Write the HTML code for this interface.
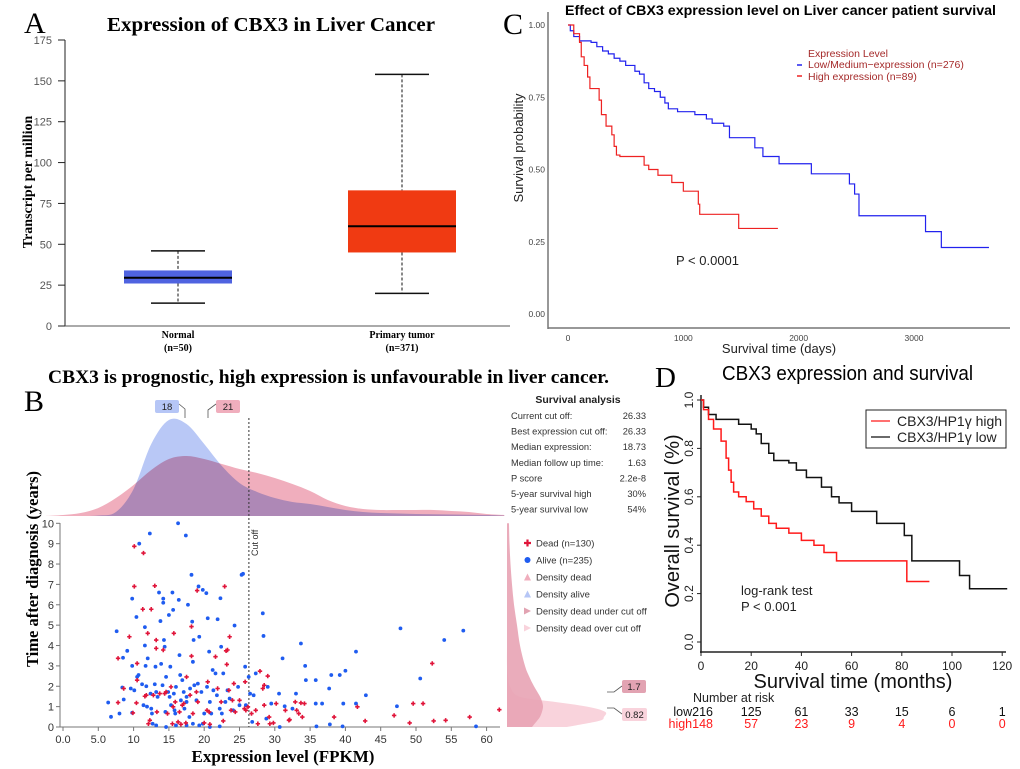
<!DOCTYPE html>
<html><head><meta charset="utf-8"><style>
html,body{margin:0;padding:0;background:#fff;}
svg{display:block;}
text{font-family:"Liberation Sans",sans-serif;}
.serif{font-family:"Liberation Serif",serif;}
</style></head><body>
<svg id="fig" width="1020" height="769" viewBox="0 0 1020 769" xmlns="http://www.w3.org/2000/svg">
<text class="serif" x="24" y="33" font-size="30">A</text>
<text class="serif" x="107" y="31" font-size="20" font-weight="bold" textLength="328" lengthAdjust="spacingAndGlyphs">Expression of CBX3 in Liver Cancer</text>
<text class="serif" x="503" y="34" font-size="30">C</text>
<text x="565" y="15" font-size="14" font-weight="bold" textLength="431" lengthAdjust="spacingAndGlyphs">Effect of CBX3 expression level on Liver cancer patient survival</text>
<text class="serif" x="48" y="383" font-size="19" font-weight="bold" textLength="561" lengthAdjust="spacingAndGlyphs">CBX3 is prognostic, high expression is unfavourable in liver cancer.</text>
<text class="serif" x="24" y="411" font-size="30">B</text>
<text class="serif" x="655" y="387" font-size="29">D</text>
<text x="722" y="380" font-size="20" textLength="251" lengthAdjust="spacingAndGlyphs">CBX3 expression and survival</text>
<g id="gA"></g>
<g id="gC"></g>
<g id="gB"></g>
<g id="gD"></g>
</svg>
<script>
// ---------- Panel A data ----------
const aCategories = ["Normal", "Primary tumor"];
const aCounts = ["(n=50)", "(n=371)"];
const aQ1 = [26, 45];
const aMedian = [29.5, 61];
const aQ3 = [34, 83];
const aLow = [14, 20];
const aHigh = [46, 154];
const aTicks = [0, 25, 50, 75, 100, 125, 150, 175];
const aColors = ["#4f63e0", "#f03a12"];

// ---------- Panel C data ----------
const cLowT = [0,20,50,100,200,250,300,350,400,450,500,580,620,660,700,750,800,840,870,950,1100,1200,1250,1350,1400,1620,1690,1830,2110,2440,2485,2523,3100,3237,3650];
const cLowS = [1,0.98,0.96,0.945,0.94,0.925,0.91,0.9,0.885,0.875,0.86,0.84,0.83,0.8,0.78,0.77,0.75,0.73,0.71,0.7,0.69,0.675,0.66,0.65,0.61,0.575,0.545,0.52,0.485,0.45,0.415,0.34,0.285,0.23,0.23];
const cHighT = [0,50,100,115,140,170,190,270,290,330,380,400,420,450,660,700,780,900,1000,1130,1142,1480,1820];
const cHighS = [1,0.97,0.94,0.89,0.86,0.82,0.78,0.74,0.69,0.65,0.62,0.58,0.55,0.545,0.515,0.5,0.48,0.455,0.425,0.38,0.345,0.296,0.296];
const cYTicks = [0, 0.25, 0.5, 0.75, 1.0];
const cYLabels = ["0.00","0.25","0.50","0.75","1.00"];
const cXTicks = [0, 1000, 2000, 3000];

// ---------- Panel D data ----------
const dLowT = [0,1,3,6,15,20,22,24,27,29,35,38,42,48,52,55,60,70,81,84,103,107,122];
const dLowS = [1,0.97,0.94,0.92,0.9,0.88,0.86,0.82,0.78,0.75,0.74,0.71,0.68,0.64,0.6,0.575,0.54,0.49,0.44,0.335,0.275,0.22,0.22];
const dHighT = [0,1,3,5,8,10,11,12,13,15,18,21,24,27,30,35,40,45,49,54,82,91];
const dHighS = [1,0.96,0.92,0.88,0.83,0.76,0.71,0.66,0.62,0.6,0.58,0.55,0.52,0.49,0.47,0.45,0.42,0.4,0.37,0.335,0.25,0.25];
const dYTicks = [0, 0.2, 0.4, 0.6, 0.8, 1.0];
const dXTicks = [0, 20, 40, 60, 80, 100, 120];
const dRiskLow = ["216","125","61","33","15","6","1"];
const dRiskHigh = ["148","57","23","9","4","0","0"];

// ---------- Panel B data ----------
const bAliveX = [6.4,6.8,7.6,8.0,8.4,8.5,8.6,9.1,9.6,9.8,9.8,9.8,10.1,10.4,10.5,10.7,10.8,11.2,11.4,11.6,11.6,11.7,11.8,11.9,12.0,12.3,12.4,12.5,12.6,12.7,13.0,13.1,13.2,13.4,13.6,13.8,13.9,14.1,14.2,14.2,14.3,14.4,14.5,14.6,14.9,15.0,15.1,15.2,15.3,15.5,15.6,15.7,15.8,15.9,16.0,16.3,16.4,16.5,16.6,16.7,16.9,17.1,17.2,17.4,17.5,17.5,17.7,17.9,18.0,18.2,18.3,18.4,18.5,18.6,18.9,19.1,19.2,19.3,19.6,19.8,20.0,20.3,20.4,20.5,20.7,20.8,21.0,21.2,21.3,21.6,21.8,21.9,22.2,22.3,22.4,22.5,22.7,23.0,23.3,23.6,24.1,24.3,24.8,25.0,25.3,25.5,25.8,25.9,26.3,26.5,26.8,27.0,27.3,28.3,28.4,28.8,29.0,29.5,30.6,31.1,31.4,32.5,33.0,33.7,34.3,34.4,35.8,35.8,36.7,37.7,37.8,38.0,39.2,39.7,40.0,41.5,41.5,42.9,47.3,47.8,50.6,54.0,56.7,58.5,30.7,22.2,20.8,19.8,19.3,18.4,17.5,16.0,14.6,13.2,39.6,35.9];
const bAliveY = [1.2,0.5,4.7,0.66,1.94,3.4,1.35,3.74,1.89,3.0,6.3,0.7,1.8,5.4,2.46,2.55,9.0,2.1,1.07,4.9,4.0,3.0,2.0,1.0,3.37,9.5,1.64,0.9,0.66,0.16,2.1,2.96,1.72,1.48,6.6,5.2,3.1,2.05,6.3,6.1,4.27,3.94,0.74,2.46,1.72,5.5,1.48,2.96,1.07,6.6,5.75,1.64,0.82,0.66,1.97,10.0,6.24,3.53,2.55,1.31,2.3,1.72,0.9,9.4,1.48,1.23,6.0,0.49,1.89,7.47,5.17,3.2,4.27,2.05,1.31,2.13,6.9,4.43,1.72,6.73,0.66,6.57,1.97,5.34,3.7,1.23,0.66,2.8,1.8,2.63,1.56,5.29,0.9,6.32,3.94,0.66,2.63,1.23,1.8,1.4,0.82,4.98,1.97,1.07,7.47,7.52,2.96,1.07,2.46,1.64,0.25,1.56,2.63,5.58,4.47,0.41,1.97,1.15,1.64,3.37,1.02,0.9,1.64,4.1,3.0,2.3,2.3,1.15,1.15,1.89,0.13,2.55,2.55,1.15,2.76,3.7,1.15,1.56,1.02,4.84,2.38,4.27,4.73,0.03,0,0.03,0,0.16,0.08,0.16,0.08,0.08,0,0.08,0.03,0.03];
const bDeadX = [7.8,7.8,8.6,9.4,9.9,10.1,10.1,10.4,10.5,10.5,11.3,11.4,11.6,11.8,12.0,12.1,12.3,12.5,12.8,13.0,13.2,13.2,13.3,13.7,14.2,14.4,14.6,14.8,15.3,15.5,15.6,15.7,15.9,16.3,16.5,16.7,16.9,17.1,17.4,17.5,18.0,18.2,18.2,18.4,18.9,19.0,19.1,20.0,20.4,20.5,20.7,20.8,21.6,21.9,22.4,22.7,22.9,23.1,23.2,23.3,23.5,23.6,23.8,24.0,24.2,24.4,25.0,25.7,25.8,25.9,26.2,26.7,27.3,27.6,27.9,28.3,28.5,28.5,29.0,29.2,29.3,29.8,30.2,31.5,32.0,32.1,32.9,33.1,33.4,33.7,33.9,34.2,38.4,41.7,42.8,46.9,49.1,49.6,51.0,52.3,52.5,54.2,57.6,61.8];
const bDeadY = [3.37,1.2,1.89,4.43,0.69,8.87,6.9,1.18,3.12,2.3,5.78,8.54,1.51,1.56,4.6,0.16,0.33,5.78,1.56,6.93,4.27,3.86,0.74,1.64,3.78,1.64,1.72,0.66,1.97,0.16,0.99,4.6,1.23,0.25,0.74,0.13,1.07,1.15,0.2,2.46,1.56,4.93,3.48,0.66,1.72,6.7,1.23,0.2,0.82,2.22,0.74,0.13,3.45,1.89,1.23,0.3,6.9,3.74,3.07,3.78,1.8,4.43,0.82,1.31,2.13,0.74,1.31,0.9,2.22,0.82,0.99,0.66,0.82,0.16,2.74,1.89,2.05,1.07,2.5,0.49,0.16,0.2,1.15,0.82,0.33,0.36,1.23,0.82,0.66,1.18,0.49,1.15,0.49,0.99,0.3,0.57,0.2,1.15,1.15,3.12,0.3,0.33,0.49,0.85];
const bDensGrid = [-2.5,0,2.5,5,7.5,10,12.5,15,17.5,20,22.5,25,27.5,30,32.5,35,37.5,40,42.5,45,47.5,50,52.5,55,57.5,60,62.5];
const bDensAlive = [0,0,0,0.5,4,27,72,96,92,72,50,33,24,18,14,12,9,6,4,3,2.5,2,1.8,1.5,1.2,1,0.5];
const bDensDead = [0,1,3,8,18,31,46,57,60,57,52,47,43,38,32,25,16,10,7,6,6,6,6,5,4,2,1];
const bTimeGrid = [0,0.3,0.5,0.75,1,1.25,1.5,2,2.5,3,4,5,6,7,8,9,10];
const bTimeDensUnder = [25,30,33,35,36,35,33,27,22,18,13,10,7,5,3.5,2.5,2];
const bTimeDensOver = [60,92,97,98,80,45,12,3,1,0,0,0,0,0,0,0,0];
const bXTicks = [0,5,10,15,20,25,30,35,40,45,50,55,60];
const bXLabels = ["0.0","5.0","10","15","20","25","30","35","40","45","50","55","60"];
const bYTicks = [0,1,2,3,4,5,6,7,8,9,10];
const bCutoff = 26.33;
const bStatLabels = ["Current cut off:","Best expression cut off:","Median expression:","Median follow up time:","P score","5-year survival high","5-year survival low"];
const bStatValues = ["26.33","26.33","18.73","1.63","2.2e-8","30%","54%"];

const NS = "http://www.w3.org/2000/svg";
function mk(tag, attrs, parent, txt) {
  const e = document.createElementNS(NS, tag);
  for (const k in attrs) e.setAttribute(k, attrs[k]);
  if (txt !== undefined) e.textContent = txt;
  parent.appendChild(e);
  return e;
}
function stepPath(ts, ss, fx, fy) {
  let d = "M" + fx(ts[0]) + "," + fy(ss[0]);
  for (let i = 1; i < ts.length; i++) d += " H" + fx(ts[i]) + " V" + fy(ss[i]);
  return d;
}
function smooth(pts) {
  let d = "";
  for (let i = 0; i < pts.length - 1; i++) {
    const p0 = pts[Math.max(0, i-1)], p1 = pts[i], p2 = pts[i+1], p3 = pts[Math.min(pts.length-1, i+2)];
    const c1x = p1[0] + (p2[0]-p0[0])/6, c1y = p1[1] + (p2[1]-p0[1])/6;
    const c2x = p2[0] - (p3[0]-p1[0])/6, c2y = p2[1] - (p3[1]-p1[1])/6;
    d += " C" + c1x + "," + c1y + " " + c2x + "," + c2y + " " + p2[0] + "," + p2[1];
  }
  return d;
}

// ================= Panel A =================
(function(){
  const g = document.getElementById("gA");
  const y = v => 326 - v * (286 / 175);
  const xc = [178, 402];
  let e;
  e = mk("line", {x1:65, y1:40, x2:65, y2:326, stroke:"#222", "stroke-width":1}, g);
  
  
  e = mk("line", {x1:58, y1:326, x2:510, y2:326, stroke:"#555", "stroke-width":1}, g);
  
  
  aTicks.forEach(t => {
    const tk = mk("line", {x1:58, x2:65, y1:y(t), y2:y(t), stroke:"#222"}, g);
    
    
    const lb = mk("text", {x:52, y:y(t)+4, "text-anchor":"end", "font-size":11, fill:"#555"}, g, String(t));
    
    
  });
  e = mk("text", {x:0, y:0, transform:"translate(32,182) rotate(-90)", "text-anchor":"middle", "font-size":14, "font-weight":"bold", class:"serif"}, g, "Transcript per million");
  
  
  aCategories.forEach((c, i) => {
    const cx = xc[i];
    const w1 = mk("line", {x1:cx, x2:cx, y1:y(aHigh[i]), y2:y(aQ3[i]), stroke:"#111", "stroke-dasharray":"3,2"}, g);
    
    
    const w2 = mk("line", {x1:cx, x2:cx, y1:y(aQ1[i]), y2:y(aLow[i]), stroke:"#111", "stroke-dasharray":"3,2"}, g);
    
    
    const c1 = mk("line", {x1:cx-27, x2:cx+27, y1:y(aHigh[i]), y2:y(aHigh[i]), stroke:"#111", "stroke-width":1.5}, g);
    
    
    const c2 = mk("line", {x1:cx-27, x2:cx+27, y1:y(aLow[i]), y2:y(aLow[i]), stroke:"#111", "stroke-width":1.5}, g);
    
    
    const b = mk("rect", {x:cx-54, y:y(aQ3[i]), width:108, height:y(aQ1[i])-y(aQ3[i]), fill:aColors[i]}, g);
    
    
    const m = mk("line", {x1:cx-54, x2:cx+54, y1:y(aMedian[i]), y2:y(aMedian[i]), stroke:"#000", "stroke-width":2}, g);
    
    
    const l1 = mk("text", {x:cx, y:338, "text-anchor":"middle", "font-size":10, "font-weight":"bold", class:"serif"}, g, c);
    
    
    const l2 = mk("text", {x:cx, y:351, "text-anchor":"middle", "font-size":10, "font-weight":"bold", class:"serif"}, g, aCounts[i]);
    
    
  });
})();

// ================= Panel C =================
(function(){
  const g = document.getElementById("gC");
  const x = d => 568 + d * (346 / 3000);
  const y = s => 314 - s * 289;
  let e;
  e = mk("line", {x1:548, y1:12, x2:548, y2:329, stroke:"#777", "stroke-width":1.5}, g);
  
  
  e = mk("line", {x1:548, y1:328, x2:1010, y2:328, stroke:"#777", "stroke-width":1.5}, g);
  
  
  cYTicks.forEach((t, i) => {
    const lb = mk("text", {x:545, y:y(t)+3, "text-anchor":"end", "font-size":8.5, fill:"#444"}, g, cYLabels[i]);
    
    
  });
  cXTicks.forEach(t => {
    const lb = mk("text", {x:x(t), y:341, "text-anchor":"middle", "font-size":8.5, fill:"#444"}, g, String(t));
    
    
  });
  e = mk("text", {x:0, y:0, transform:"translate(523,148) rotate(-90)", "text-anchor":"middle", "font-size":13, fill:"#222"}, g, "Survival probability");
  
  
  e = mk("text", {x:779, y:353, "text-anchor":"middle", "font-size":13, fill:"#222"}, g, "Survival time (days)");
  
  
  e = mk("path", {d:stepPath(cLowT, cLowS, x, y), fill:"none", stroke:"#2222ee", "stroke-width":1.2}, g);
  
  
  e = mk("path", {d:stepPath(cHighT, cHighS, x, y), fill:"none", stroke:"#ee2222", "stroke-width":1.2}, g);
  
  
  e = mk("text", {x:676, y:265, "font-size":13, fill:"#222"}, g, "P < 0.0001");
  
  
  e = mk("text", {x:808, y:57, "font-size":10.5, fill:"#a52a2a"}, g, "Expression Level");
  
  
  e = mk("line", {x1:797, x2:802, y1:65, y2:65, stroke:"#2222ee", "stroke-width":1.5}, g);
  
  
  e = mk("text", {x:808, y:68, "font-size":10.5, fill:"#a52a2a"}, g, "Low/Medium\u2212expression (n=276)");
  
  
  e = mk("line", {x1:797, x2:802, y1:76, y2:76, stroke:"#ee2222", "stroke-width":1.5}, g);
  
  
  e = mk("text", {x:808, y:80, "font-size":10.5, fill:"#a52a2a"}, g, "High expression (n=89)");
  
  
})();

// ================= Panel D =================
(function(){
  const g = document.getElementById("gD");
  const x = m => 701 + m * 2.51;
  const y = s => 642 - s * 242;
  let e;
  e = mk("line", {x1:701, y1:395, x2:701, y2:653, stroke:"#222", "stroke-width":1.5}, g);
  
  
  e = mk("line", {x1:700, y1:652, x2:1006, y2:652, stroke:"#222", "stroke-width":1.5}, g);
  
  
  dYTicks.forEach(t => {
    const tk = mk("line", {x1:697, x2:701, y1:y(t), y2:y(t), stroke:"#222"}, g);
    
    
    const lb = mk("text", {x:0, y:0, transform:"translate(693," + y(t) + ") rotate(-90)", "text-anchor":"middle", "font-size":12, fill:"#222"}, g, t.toFixed(1));
    
    
  });
  dXTicks.forEach(t => {
    const tk = mk("line", {x1:x(t), x2:x(t), y1:652, y2:656, stroke:"#222"}, g);
    
    
    const lb = mk("text", {x:x(t), y:670, "text-anchor":"middle", "font-size":12, fill:"#222"}, g, String(t));
    
    
  });
  e = mk("text", {x:0, y:0, transform:"translate(679,521) rotate(-90)", "text-anchor":"middle", "font-size":20, fill:"#111"}, g, "Overall survival (%)");
  
  
  e = mk("text", {x:853, y:688, "text-anchor":"middle", "font-size":20, fill:"#111"}, g, "Survival time (months)");
  
  
  e = mk("path", {d:stepPath(dLowT, dLowS, x, y), fill:"none", stroke:"#111", "stroke-width":1.5}, g);
  
  
  e = mk("path", {d:stepPath(dHighT, dHighS, x, y), fill:"none", stroke:"#ff1a1a", "stroke-width":1.5}, g);
  
  
  e = mk("text", {x:741, y:595, "font-size":13, fill:"#222"}, g, "log-rank test");
  
  
  e = mk("text", {x:741, y:611, "font-size":13, fill:"#222"}, g, "P < 0.001");
  
  
  e = mk("rect", {x:866, y:410, width:140, height:38, fill:"#fff", stroke:"#222", "stroke-width":1}, g);
  
  
  e = mk("line", {x1:871, x2:890, y1:421, y2:421, stroke:"#ff1a1a", "stroke-width":1.2}, g);
  
  
  e = mk("text", {x:897, y:426, "font-size":14, fill:"#222"}, g, "CBX3/HP1\u03b3 high");
  
  
  e = mk("line", {x1:871, x2:890, y1:437, y2:437, stroke:"#111", "stroke-width":1.2}, g);
  
  
  e = mk("text", {x:897, y:442, "font-size":14, fill:"#222"}, g, "CBX3/HP1\u03b3 low");
  
  
  e = mk("text", {x:693, y:702, "font-size":12.5, fill:"#222"}, g, "Number at risk");
  
  
  dXTicks.forEach((t, i) => {
    const lowTxt = i === 0 ? "low" + dRiskLow[i] : dRiskLow[i];
    const highTxt = i === 0 ? "high" + dRiskHigh[i] : dRiskHigh[i];
    const anchor = i === 0 ? "end" : "middle";
    const xx = i === 0 ? 713 : x(t);
    const a = mk("text", {x:xx, y:716, "text-anchor":anchor, "font-size":12.5, fill:"#111"}, g, lowTxt);
    
    
    const b = mk("text", {x:xx, y:728, "text-anchor":anchor, "font-size":12.5, fill:"#ff1a1a"}, g, highTxt);
    
    
  });
})();

// ================= Panel B =================
(function(){
  const g = document.getElementById("gB");
  const x = v => 63 + v * 7.06;
  const y = t => 727 - t * 20.37;
  const dBase = 516;
  let e;
  function densPath(vals) {
    const pts = bDensGrid.map((gx, i) => [x(gx), dBase - vals[i]]);
    let d = "M" + pts[0][0] + "," + dBase + " L" + pts[0][0] + "," + pts[0][1] + smooth(pts);
    d += " L" + pts[pts.length-1][0] + "," + dBase + " Z";
    return d;
  }
  e = mk("path", {d:densPath(bDensDead), fill:"#f0aebd", "stroke":"none"}, g);
  
  
  e = mk("path", {d:densPath(bDensAlive), fill:"#b9c8f6", "stroke":"none", style:"mix-blend-mode:multiply"}, g);
  
  
  e = mk("rect", {x:155, y:400, width:24, height:13, rx:2, fill:"#b6c6f6"}, g);
  
  
  e = mk("text", {x:167, y:410, "text-anchor":"middle", "font-size":9.5, fill:"#222"}, g, "18");
  
  
  e = mk("path", {d:"M179,404 L185,409 L185,418", fill:"none", stroke:"#555", "stroke-width":0.8}, g);
  
  
  e = mk("rect", {x:216, y:400, width:24, height:13, rx:2, fill:"#f0aebd"}, g);
  
  
  e = mk("text", {x:228, y:410, "text-anchor":"middle", "font-size":9.5, fill:"#222"}, g, "21");
  
  
  e = mk("path", {d:"M216,404 L208,410 L208,418", fill:"none", stroke:"#555", "stroke-width":0.8}, g);
  
  
  function tPath(vals) {
    const pts = bTimeGrid.map((t, i) => [507 + vals[i], y(t)]);
    let d = "M507," + pts[0][1] + " L" + pts[0][0] + "," + pts[0][1] + smooth(pts);
    d += " L507," + pts[pts.length-1][1] + " Z";
    return d;
  }
  e = mk("path", {d:tPath(bTimeDensOver), fill:"#f9d3dc"}, g);
  
  
  e = mk("path", {d:tPath(bTimeDensUnder), fill:"#e8a3b4", "fill-opacity":0.9}, g);
  
  
  e = mk("rect", {x:622, y:680, width:24, height:13, rx:2, fill:"#e2a3b2"}, g);
  
  
  e = mk("text", {x:634, y:690, "text-anchor":"middle", "font-size":9.5, fill:"#222"}, g, "1.7");
  
  
  e = mk("path", {d:"M607,692 L614,692 L622,686", fill:"none", stroke:"#555", "stroke-width":0.8}, g);
  
  
  e = mk("rect", {x:622, y:708, width:25, height:13, rx:2, fill:"#f9d3dc"}, g);
  
  
  e = mk("text", {x:634.5, y:718, "text-anchor":"middle", "font-size":9.5, fill:"#222"}, g, "0.82");
  
  
  e = mk("path", {d:"M607,708 L614,708 L622,714", fill:"none", stroke:"#555", "stroke-width":0.8}, g);
  
  
  e = mk("line", {x1:60, y1:523, x2:60, y2:727, stroke:"#777", "stroke-width":1}, g);
  
  
  e = mk("line", {x1:60, y1:727, x2:500, y2:727, stroke:"#777", "stroke-width":1}, g);
  
  
  bYTicks.forEach(t => {
    const tk = mk("line", {x1:56, x2:60, y1:y(t), y2:y(t), stroke:"#777"}, g);
    
    
    const lb = mk("text", {x:54, y:y(t)+4, "text-anchor":"end", "font-size":11, fill:"#333"}, g, String(t));
    
    
  });
  bXTicks.forEach((t, i) => {
    const tk = mk("line", {x1:x(t), x2:x(t), y1:727, y2:731, stroke:"#777"}, g);
    
    
    const lb = mk("text", {x:x(t), y:743, "text-anchor":"middle", "font-size":11, fill:"#333"}, g, bXLabels[i]);
    
    
  });
  e = mk("text", {x:0, y:0, transform:"translate(38,569) rotate(-90)", "text-anchor":"middle", "font-size":16.5, "font-weight":"bold", class:"serif"}, g, "Time after diagnosis (years)");
  
  
  e = mk("text", {x:283, y:762, "text-anchor":"middle", "font-size":17, "font-weight":"bold", class:"serif"}, g, "Expression level (FPKM)");
  
  
  e = mk("line", {x1:x(bCutoff), x2:x(bCutoff), y1:418, y2:727, stroke:"#333", "stroke-width":1, "stroke-dasharray":"2,2"}, g);
  
  
  e = mk("text", {x:0, y:0, transform:"translate(" + (x(bCutoff)+9) + ",556) rotate(-90)", "font-size":9, fill:"#333"}, g, "Cut off");
  
  
  bAliveX.forEach((v, i) => {
    const c = mk("circle", {cx:x(v), cy:y(bAliveY[i]), r:1.9, fill:"#1f5cf0"}, g);
    
    
  });
  bDeadX.forEach((v, i) => {
    const px = x(v), py = y(bDeadY[i]);
    const c = mk("path", {d:"M" + (px-2.2) + "," + py + " H" + (px+2.2) + " M" + px + "," + (py-2.2) + " V" + (py+2.2), stroke:"#e0153a", "stroke-width":1.6}, g);
    
    
  });
  e = mk("text", {x:578, y:403, "text-anchor":"middle", "font-size":10.5, "font-weight":"bold", fill:"#222"}, g, "Survival analysis");
  
  
  bStatLabels.forEach((s, i) => {
    const yy = 419 + i * 15.6;
    const a = mk("text", {x:511, y:yy, "font-size":9.3, fill:"#333"}, g, s);
    
    
    const b = mk("text", {x:646, y:yy, "text-anchor":"end", "font-size":9.3, fill:"#333"}, g, bStatValues[i]);
    
    
  });
  const legTxt = ["Dead (n=130)","Alive (n=235)","Density dead","Density alive","Density dead under cut off","Density dead over cut off"];
  legTxt.forEach((s, i) => {
    const yy = 543 + i * 17;
    let m;
    if (i === 0) m = mk("path", {d:"M524," + yy + " H531 M527.5," + (yy-3.5) + " V" + (yy+3.5), stroke:"#e0153a", "stroke-width":2.2}, g);
    else if (i === 1) m = mk("circle", {cx:527.5, cy:yy, r:3, fill:"#1f5cf0"}, g);
    else if (i === 2) m = mk("path", {d:"M524," + (yy+3.5) + " L527.5," + (yy-3.5) + " L531," + (yy+3.5) + " Z", fill:"#f0aebd"}, g);
    else if (i === 3) m = mk("path", {d:"M524," + (yy+3.5) + " L527.5," + (yy-3.5) + " L531," + (yy+3.5) + " Z", fill:"#b6c6f6"}, g);
    else if (i === 4) m = mk("path", {d:"M524," + (yy-3.5) + " L531," + yy + " L524," + (yy+3.5) + " Z", fill:"#e2a3b2"}, g);
    else m = mk("path", {d:"M524," + (yy-3.5) + " L531," + yy + " L524," + (yy+3.5) + " Z", fill:"#f9d3dc"}, g);
    
    
    const t = mk("text", {x:536, y:yy+3.5, "font-size":9.5, fill:"#333"}, g, s);
    
    
  });
})();
</script>
</body></html>
